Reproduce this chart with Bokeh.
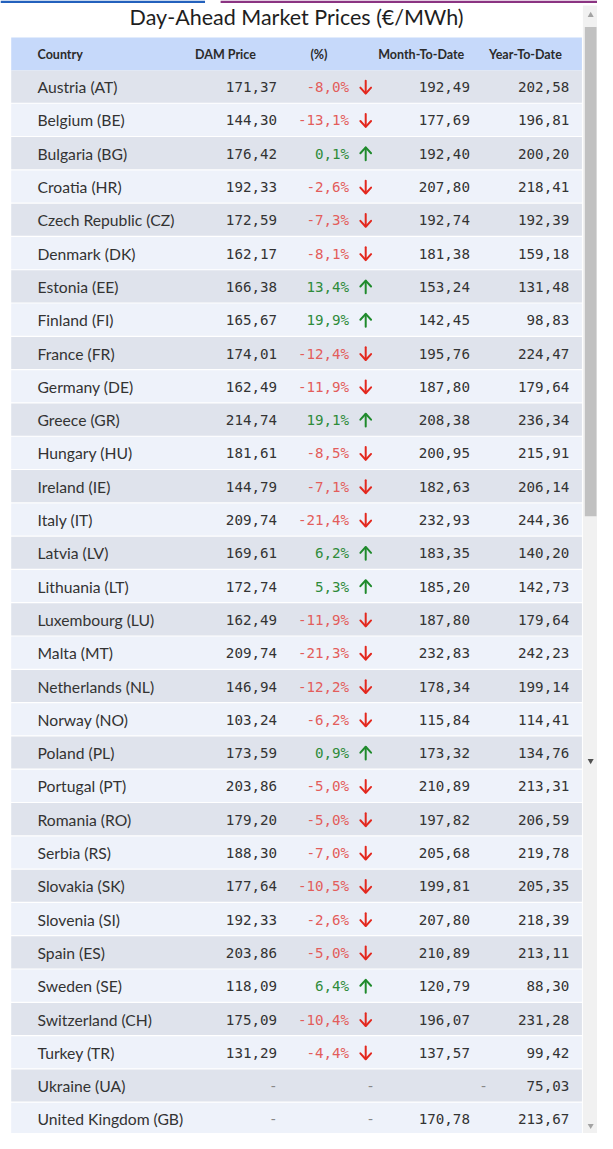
from bokeh.plotting import figure
from bokeh.models import ColumnDataSource, Range1d
from bokeh.core.properties import value
from bokeh.embed import file_html
from bokeh.resources import INLINE

title = "Day-Ahead Market Prices (€/MWh)"
headers = ["Country", "DAM Price", "(%)", "Month-To-Date", "Year-To-Date"]

countries = ["Austria (AT)", "Belgium (BE)", "Bulgaria (BG)", "Croatia (HR)", "Czech Republic (CZ)",
             "Denmark (DK)", "Estonia (EE)", "Finland (FI)", "France (FR)", "Germany (DE)",
             "Greece (GR)", "Hungary (HU)", "Ireland (IE)", "Italy (IT)", "Latvia (LV)",
             "Lithuania (LT)", "Luxembourg (LU)", "Malta (MT)", "Netherlands (NL)", "Norway (NO)",
             "Poland (PL)", "Portugal (PT)", "Romania (RO)", "Serbia (RS)", "Slovakia (SK)",
             "Slovenia (SI)", "Spain (ES)", "Sweden (SE)", "Switzerland (CH)", "Turkey (TR)",
             "Ukraine (UA)", "United Kingdom (GB)"]
dam_price = [171.37, 144.30, 176.42, 192.33, 172.59, 162.17, 166.38, 165.67, 174.01, 162.49,
             214.74, 181.61, 144.79, 209.74, 169.61, 172.74, 162.49, 209.74, 146.94, 103.24,
             173.59, 203.86, 179.20, 188.30, 177.64, 192.33, 203.86, 118.09, 175.09, 131.29,
             None, None]
pct_change = [-8.0, -13.1, 0.1, -2.6, -7.3, -8.1, 13.4, 19.9, -12.4, -11.9,
              19.1, -8.5, -7.1, -21.4, 6.2, 5.3, -11.9, -21.3, -12.2, -6.2,
              0.9, -5.0, -5.0, -7.0, -10.5, -2.6, -5.0, 6.4, -10.4, -4.4,
              None, None]
month_to_date = [192.49, 177.69, 192.40, 207.80, 192.74, 181.38, 153.24, 142.45, 195.76, 187.80,
                 208.38, 200.95, 182.63, 232.93, 183.35, 185.20, 187.80, 232.83, 178.34, 115.84,
                 173.32, 210.89, 197.82, 205.68, 199.81, 207.80, 210.89, 120.79, 196.07, 137.57,
                 None, 170.78]
year_to_date = [202.58, 196.81, 200.20, 218.41, 192.39, 159.18, 131.48, 98.83, 224.47, 179.64,
                236.34, 215.91, 206.14, 244.36, 140.20, 142.73, 179.64, 242.23, 199.14, 114.41,
                134.76, 213.31, 206.59, 219.78, 205.35, 218.39, 213.11, 88.30, 231.28, 99.42,
                75.03, 213.67]


def fmt(v, pct=False):
    if v is None:
        return ""
    s = f"{v:.1f}" if pct else f"{v:.2f}"
    s = s.replace(".", ",")
    return s + "%" if pct else s


# layout constants (reference pixel coordinates)
W, H = 597, 1133
ROW0, ROWH = 71.0, 33.77
LEFT, RIGHT = 11, 597
X_COUNTRY, X_DAM, X_PCT, X_ARROW, X_MTD, X_YTD = 38, 284, 358, 375, 482, 584
X_DASH = {"dam": 280, "pct": 380, "mtd": 496}

n = len(countries)
tops = [ROW0 + i * ROWH for i in range(n)]
bottoms = [t + ROWH - 1.2 for t in tops]
mids = [t + ROWH / 2 for t in tops]
fills = ["#dfe3ec" if i % 2 == 0 else "#eef2fa" for i in range(n)]

RED_T, RED_A = "#e35d5b", "#e3281e"
GRN_T, GRN_A = "#2e8b3a", "#1f8a2c"

pct_txt, pct_col = [], []
arr_xs, arr_ys, arr_c = [], [], []
for v, ym in zip(pct_change, mids):
    if v is None:
        pct_txt.append(""); pct_col.append(RED_T)
        continue
    pct_txt.append(fmt(v, True))
    if v < 0:
        pct_col.append(RED_T)
        arr_xs += [[X_ARROW, X_ARROW], [X_ARROW - 5.5, X_ARROW, X_ARROW + 5.5]]
        arr_ys += [[ym - 6.5, ym + 6], [ym + 0.5, ym + 6.5, ym + 0.5]]
        arr_c += [RED_A, RED_A]
    else:
        pct_col.append(GRN_T)
        arr_xs += [[X_ARROW, X_ARROW], [X_ARROW - 5.5, X_ARROW, X_ARROW + 5.5]]
        arr_ys += [[ym + 6.5, ym - 6], [ym - 0.5, ym - 6.5, ym - 0.5]]
        arr_c += [GRN_A, GRN_A]

src = ColumnDataSource(dict(
    top=tops, bottom=bottoms, y=mids, fill=fills, country=countries,
    dam=[fmt(v) for v in dam_price], mtd=[fmt(v) for v in month_to_date],
    ytd=[fmt(v) for v in year_to_date],
    pct=pct_txt, pct_col=pct_col,
    dam_dash=["-" if v is None else "" for v in dam_price],
    pct_dash=["-" if v is None else "" for v in pct_change],
    mtd_dash=["-" if v is None else "" for v in month_to_date],
))

p = figure(width=W, height=H, x_range=Range1d(0, 613), y_range=Range1d(1149, 0),
           output_backend="svg", toolbar_location=None, min_border=0)
p.axis.visible = False
p.grid.visible = False
p.outline_line_color = None
p.background_fill_color = "white"
p.border_fill_color = "white"

# top page bars
p.quad(left=[0, 226], right=[210, 613], top=[0, 0], bottom=[2.5, 2.5],
       fill_color=["#2361bd", "#8b3482"], line_color=None)

# title
p.text(x=[304], y=[17], text=[title], text_font=value("Lato"), text_font_size="21.5px",
       text_color="#1e1e1e", text_align="center", text_baseline="middle")

# header
p.quad(left=[LEFT], right=[RIGHT], top=[37.5], bottom=[71], fill_color="#c6d9fa", line_color=None)
hx = [X_COUNTRY, 231, 327, 432, 539]
ha = ["left", "center", "center", "center", "center"]
for x, t, a in zip(hx, headers, ha):
    p.text(x=[x], y=[54.5], text=[t], text_font=value("Lato"), text_font_size="12.5px",
           text_color="#2b2b2b", text_align=a, text_baseline="middle", text_font_style="bold")

# rows
p.quad(left=LEFT, right=RIGHT, top="top", bottom="bottom", fill_color="fill", line_color=None, source=src)

p.text(x=X_COUNTRY, y="y", text="country", source=src, text_font=value("Lato"),
       text_font_size="15.7px", text_color="#333333", text_align="left", text_baseline="middle")
mono = value("DejaVu Sans Mono")
for x, col in [(X_DAM, "dam"), (X_MTD, "mtd"), (X_YTD, "ytd")]:
    p.text(x=x, y="y", text=col, source=src, text_font=mono, text_font_size="14.2px",
           text_color="#333333", text_align="right", text_baseline="middle")
p.text(x=X_PCT, y="y", text="pct", source=src, text_font=mono, text_font_size="14.2px",
       text_color="pct_col", text_align="right", text_baseline="middle")
p.multi_line(xs=arr_xs, ys=arr_ys, line_color=arr_c, line_width=2, line_cap="round",
             line_join="round")
for key, col in [("dam", "dam_dash"), ("pct", "pct_dash"), ("mtd", "mtd_dash")]:
    p.text(x=X_DASH[key], y="y", text=col, source=src, text_font=mono, text_font_size="14.2px",
           text_color="#888888", text_align="center", text_baseline="middle")

# scrollbar
p.quad(left=[598], right=[613], top=[5], bottom=[1149], fill_color="#f1f1f1", line_color=None)
p.quad(left=[600], right=[612], top=[27], bottom=[523], fill_color="#c1c1c1", line_color=None)
p.scatter(x=[606], y=[15], marker="triangle", size=6, fill_color="#a3a3a3", line_color=None)
p.scatter(x=[606, 606], y=[771, 1141], marker="inverted_triangle", size=6,
          fill_color=["#505050", "#a3a3a3"], line_color=None)

open("out.html", "w").write(file_html(p, INLINE))
